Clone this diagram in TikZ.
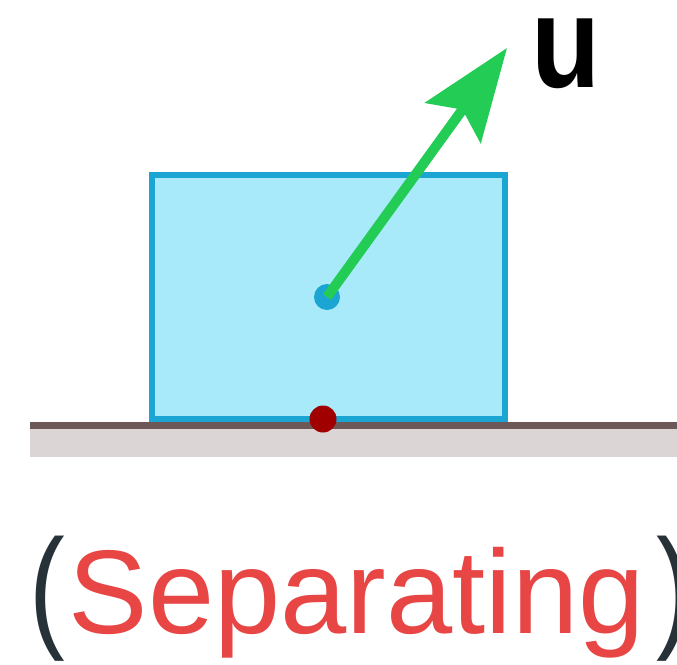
\documentclass[tikz,border=0pt]{standalone}
\usepackage{fontspec}
\setmainfont{Liberation Sans}
\usetikzlibrary{arrows.meta}
\definecolor{boxfill}{HTML}{A8EAF9}
\definecolor{boxline}{HTML}{1BA5D2}
\definecolor{grounddark}{HTML}{6D5757}
\definecolor{groundlight}{HTML}{DCD5D5}
\definecolor{contactred}{HTML}{A00000}
\definecolor{arrowgreen}{HTML}{22CC55}
\definecolor{labelred}{HTML}{E84545}
\definecolor{parencol}{HTML}{263238}
\tikzset{
  blockbox/.style={draw=boxline, fill=boxfill, line width=6pt},
  dotnode/.style={circle, inner sep=0pt, minimum size=26pt},
  vecarrow/.style={draw=arrowgreen, line width=10pt, -{Stealth[length=92pt,width=68pt,inset=16pt,fill=arrowgreen]}},
}
\begin{document}
\begin{tikzpicture}[x=1pt,y=-1pt]
\useasboundingbox (0,0) rectangle (677,664);
\fill[white] (0,0) rectangle (677,664);
% ground
\fill[groundlight] (30,429) rectangle (677,457);
\fill[grounddark] (30,422) rectangle (677,429);
% block
\draw[blockbox] (152,175) rectangle (505,419);
\node[dotnode, fill=boxline] (center) at (327,297) {};
\node[dotnode, minimum size=27pt, fill=contactred] (contact) at (323,419) {};
% vector
\coordinate (tip) at (507,48);
\draw[vecarrow] (center.center) -- (tip);
\node[anchor=base west, inner sep=0pt, font=\fontsize{130}{130}\selectfont\bfseries] (ulabel) at (531,87) {\scalebox{0.87}[1]{u}};
% caption
\node[anchor=base west, inner sep=0pt, font=\fontsize{119}{119}\selectfont] (caption) at (29,633)
  {\textcolor{parencol}{\scalebox{0.9}[1.13]{(}}\hspace{4pt}\textcolor{labelred}{Separating}\hspace{12pt}\textcolor{parencol}{\scalebox{0.9}[1.13]{)}}};
\end{tikzpicture}
\end{document}
